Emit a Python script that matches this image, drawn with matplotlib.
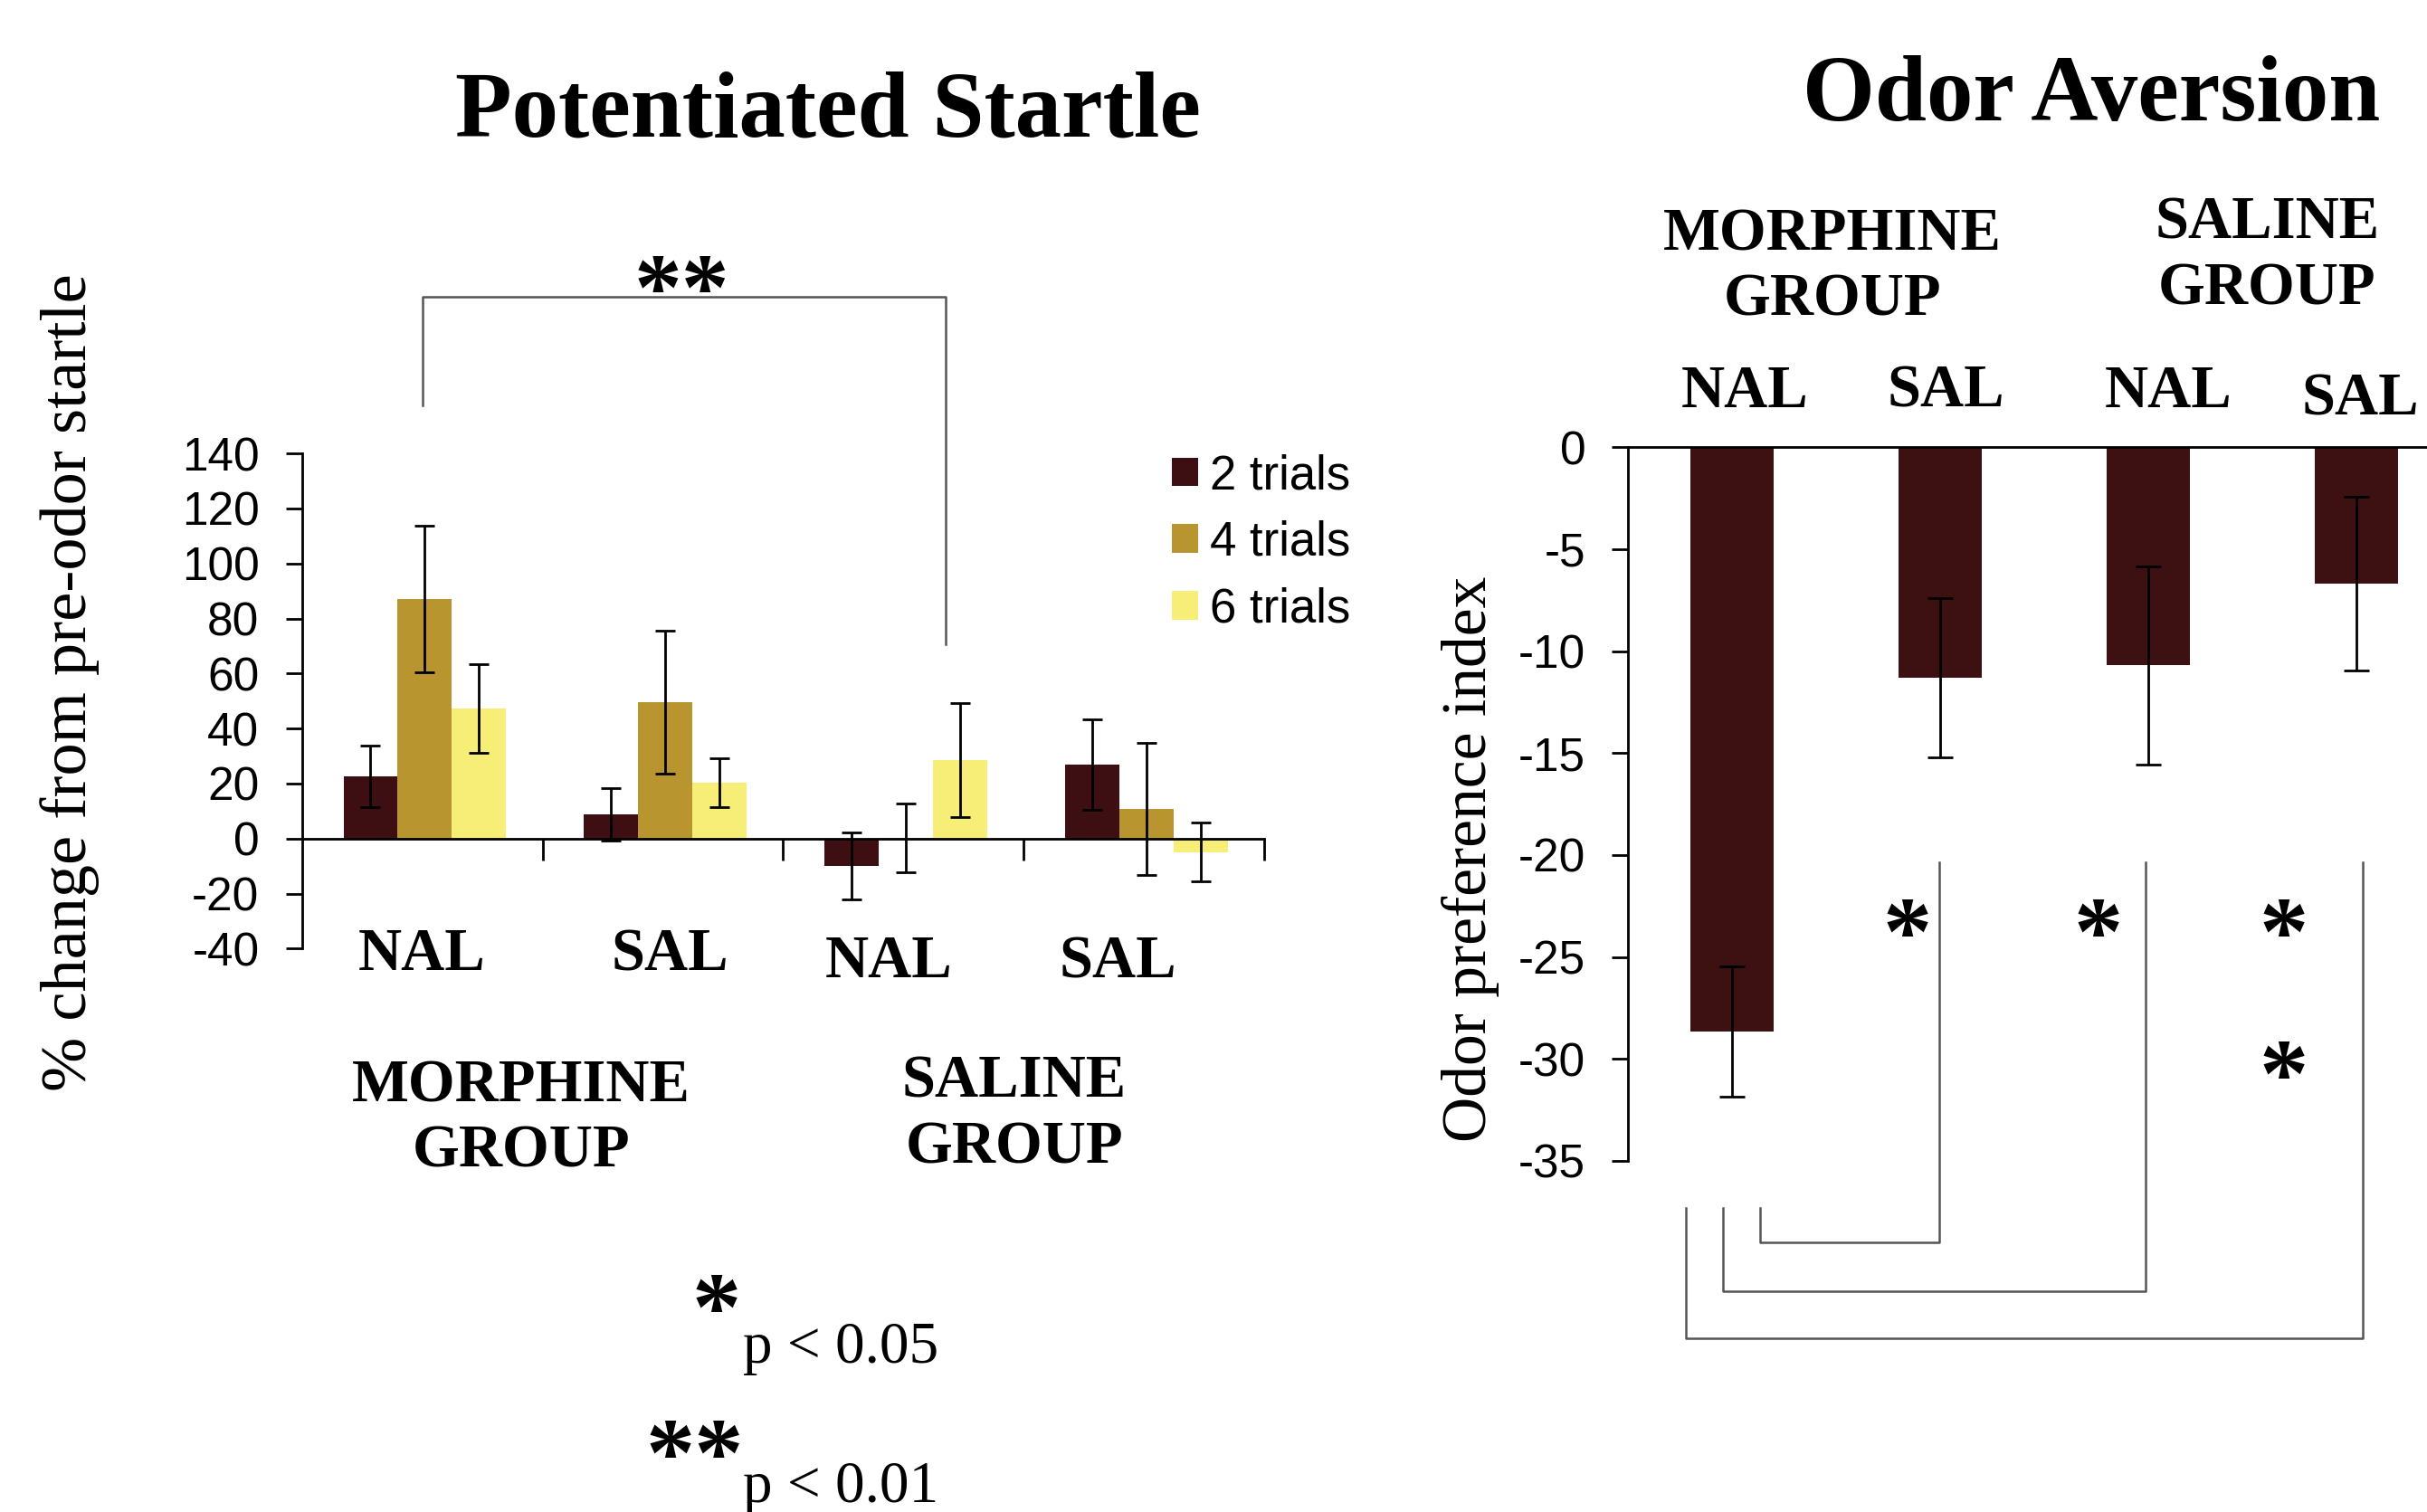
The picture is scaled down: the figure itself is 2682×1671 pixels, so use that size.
import matplotlib
matplotlib.use("Agg")
import matplotlib.pyplot as plt
import numpy as np

# ---- data: potentiated startle (% change from pre-odor startle)
trial_labels = ["2 trials", "4 trials", "6 trials"]
startle_2 = [22.5, 8.8, -10.0, 26.9]
startle_4 = [87.0, 49.6, 0.2, 10.7]
startle_6 = [47.2, 20.3, 28.6, -4.9]
startle_2_err = [11.2, 9.6, 12.1, 16.5]
startle_4_err = [26.6, 26.0, 12.6, 24.0]
startle_6_err = [16.1, 9.0, 20.8, 10.6]

# ---- data: odor aversion (odor preference index)
aversion = [-28.65, -11.3, -10.7, -6.7]
aversion_err = [3.2, 3.9, 4.85, 4.25]

treatments = ["NAL", "SAL", "NAL", "SAL"]
groups = ["MORPHINE\nGROUP", "SALINE\nGROUP"]
startle_ticks = [140, 120, 100, 80, 60, 40, 20, 0, -20, -40]
aversion_ticks = [0, -5, -10, -15, -20, -25, -30, -35]

colors = ["#3d0f12", "#b8952e", "#f7ee78"]
SERIF = "Liberation Serif"
SANS = "Liberation Sans"
GRAY = "#555555"

plt.rcParams["font.family"] = SANS
plt.rcParams["axes.unicode_minus"] = False

fig = plt.figure(figsize=(26.82, 16.71), dpi=100)

# ================= left: Potentiated Startle =================
axL = fig.add_axes([0.1244, 0.3726, 0.3966, 0.3275])
x = np.arange(len(treatments))
w = 0.225
series = [startle_2, startle_4, startle_6]
errs = [startle_2_err, startle_4_err, startle_6_err]
for i, (vals, err) in enumerate(zip(series, errs)):
    axL.bar(x + (i - 1) * w + 0.01, vals, w, color=colors[i], label=trial_labels[i], zorder=2)
    axL.errorbar(x + (i - 1) * w + 0.01, vals, yerr=err, fmt="none", ecolor="black",
                 elinewidth=2, capsize=8, capthick=2, zorder=3)

axL.set_xlim(-0.5, 3.5)
axL.set_ylim(-40, 140)
axL.set_yticks(startle_ticks)
axL.tick_params(axis="y", labelsize=37, length=13, width=2, direction="out", pad=21)
axL.spines["top"].set_visible(False)
axL.spines["right"].set_visible(False)
axL.spines["left"].set_linewidth(2)
axL.spines["bottom"].set_position(("data", 0))
axL.spines["bottom"].set_linewidth(2)
axL.set_xticks([0.5, 1.5, 2.5, 3.5])
axL.set_xticklabels([])
axL.tick_params(axis="x", length=17, width=2, direction="out")

axL.legend(loc="upper left", bbox_to_anchor=(0.904, 1.0), frameon=False, fontsize=38,
           handlelength=0.55, handleheight=0.55, handletextpad=0.25, labelspacing=0.45,
           borderaxespad=0, borderpad=0)

# treatment labels under bars
nal_pos_l = [(0.0, -42.5), (1.03, -42.5), (1.94, -45.0), (2.89, -45.0)]
for lab, (px, py) in zip(treatments, nal_pos_l):
    axL.text(px, py, lab, ha="center", va="center", fontsize=48, fontweight="bold",
             family=SERIF, clip_on=False)
grp_pos_l = [(0.41, -102.0), (2.46, -100.5)]
for lab, (px, py) in zip(groups, grp_pos_l):
    axL.text(px, py, lab, ha="center", va="center", fontsize=48, fontweight="bold",
             family=SERIF, linespacing=1.25, clip_on=False)

# significance bracket
axL.plot([0.0, 0.0, 2.175, 2.175], [157.4, 196.8, 196.8, 70.8], color=GRAY, lw=1.8,
         clip_on=False)
axL.text(1.08, 197, "**", ha="center", va="center", fontsize=76, fontweight="bold",
         family=SERIF, clip_on=False)

# ================= right: Odor Aversion =================
axR = fig.add_axes([0.6709, 0.2323, 0.3429, 0.4719])
xr = np.arange(len(aversion))
axR.bar(xr, aversion, 0.4, color="#3d1012", zorder=2)
axR.errorbar(xr, aversion, yerr=aversion_err, fmt="none", ecolor="black",
             elinewidth=2, capsize=10, capthick=2, zorder=3)
axR.set_xlim(-0.5, 3.5)
axR.set_ylim(-35, 0)
axR.set_yticks(aversion_ticks)
axR.tick_params(axis="y", labelsize=37, length=13, width=2, direction="out", pad=21)
axR.set_xticks([])
axR.spines["bottom"].set_visible(False)
axR.spines["right"].set_visible(False)
axR.spines["left"].set_linewidth(2)
axR.spines["top"].set_linewidth(2)

nal_pos_r = [(0.058, 2.7), (1.025, 2.7), (2.097, 2.7), (3.02, 2.3)]
for lab, (px, py) in zip(treatments, nal_pos_r):
    axR.text(px, py, lab, ha="center", va="center", fontsize=48, fontweight="bold",
             family=SERIF, clip_on=False)
grp_pos_r = [(0.48, 8.8), (2.57, 9.35)]
for lab, (px, py) in zip(groups, grp_pos_r):
    axR.text(px, py, lab, ha="center", va="center", fontsize=48, fontweight="bold",
             family=SERIF, linespacing=1.25, clip_on=False)

# comparison brackets
brackets = [(0.132, 0.996, -39.0), (-0.046, 1.985, -41.4), (-0.225, 3.03, -43.7)]
for x0, x1, yb in brackets:
    axR.plot([x0, x0, x1, x1], [-37.3, yb, yb, -20.35], color=GRAY, lw=1.8, clip_on=False)
for sx, sy in [(0.84, -24.2), (1.76, -24.2), (2.65, -24.2), (2.65, -31.2)]:
    axR.text(sx, sy, "*", ha="center", va="center", fontsize=78, fontweight="bold",
             family=SERIF, clip_on=False)

# ================= titles, axis labels, footnote =================
fig.text(0.3412, 0.925, "Potentiated Startle", ha="center", va="center", fontsize=74,
         fontweight="bold", family=SERIF)
fig.text(0.8616, 0.9355, "Odor Aversion", ha="center", va="center", fontsize=74,
         fontweight="bold", family=SERIF)
fig.text(0.0287, 0.5486, "% change from pre-odor startle", rotation=90, ha="center",
         va="center", fontsize=52, family=SERIF)
fig.text(0.6059, 0.4319, "Odor preference index", rotation=90, ha="center", va="center",
         fontsize=50, family=SERIF)

fig.text(0.2953, 0.129, "*", ha="center", va="center", fontsize=78, fontweight="bold",
         family=SERIF)
fig.text(0.306, 0.108, "p < 0.05", ha="left", va="center", fontsize=47, family=SERIF)
fig.text(0.2864, 0.033, "**", ha="center", va="center", fontsize=78, fontweight="bold",
         family=SERIF)
fig.text(0.306, 0.016, "p < 0.01", ha="left", va="center", fontsize=47, family=SERIF)

fig.savefig("out.png", dpi=100)
